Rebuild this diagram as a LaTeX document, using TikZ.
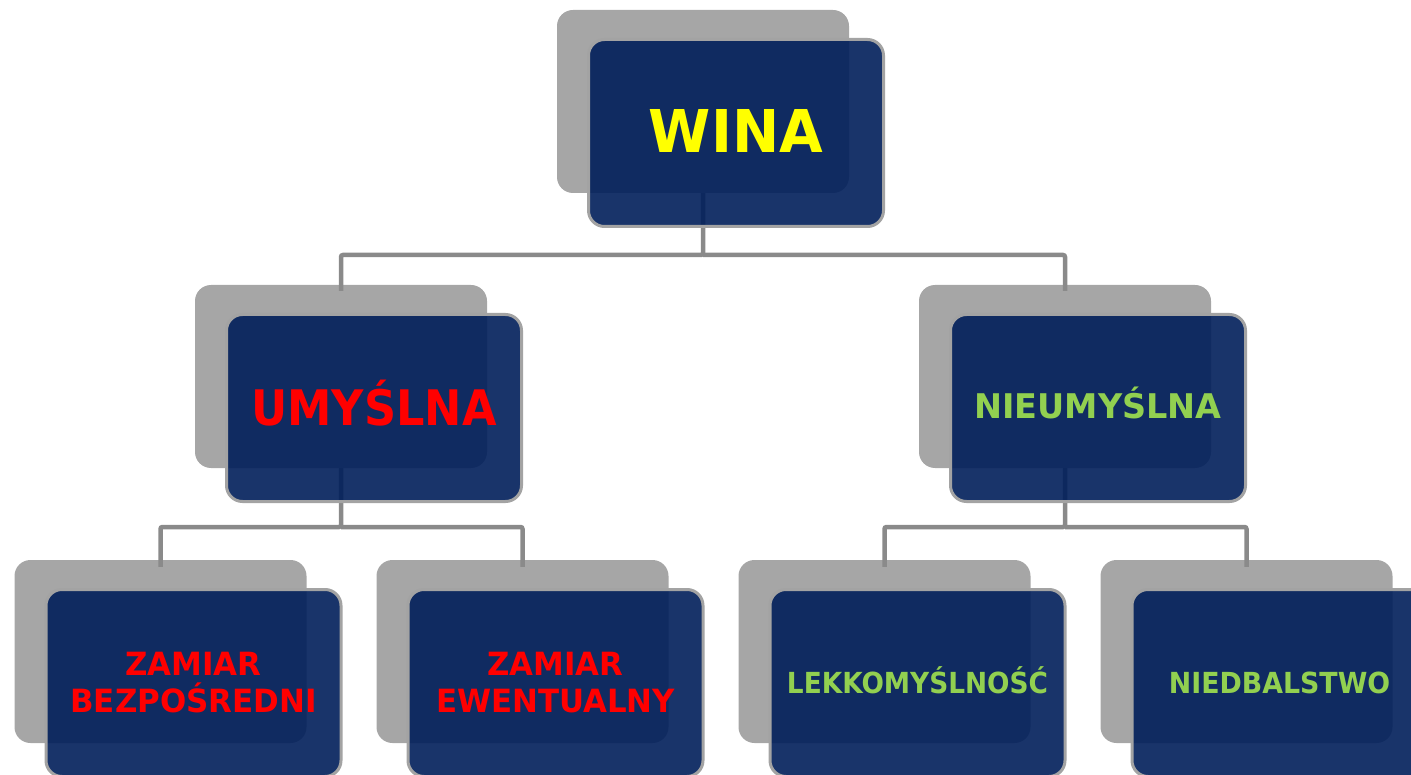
\documentclass[tikz,border=0pt]{standalone}
\usepackage{fontspec}
\setmainfont{DejaVu Sans}
\definecolor{backgray}{HTML}{A6A6A6}
\definecolor{bordergray}{HTML}{A3A3A3}
\definecolor{linegray}{HTML}{8A8A8A}
\definecolor{boxblue}{RGB}{0,30,90}
\definecolor{txtyellow}{HTML}{FFFF00}
\definecolor{txtred}{HTML}{FF0000}
\definecolor{txtgreen}{HTML}{92D050}
\tikzset{
  gbox/.style={draw=none, fill=backgray, rounded corners=16pt, minimum width=292pt, minimum height=183pt, inner sep=0pt},
  bbox/.style={draw=bordergray, line width=3pt, fill=boxblue, fill opacity=0.9, rounded corners=16pt, minimum width=295pt, minimum height=187pt, inner sep=0pt},
  conn/.style={draw=linegray, line width=4.5pt, rounded corners=2pt},
  lbl/.style={inner sep=0pt, align=center, font=\bfseries},
  sx/.style={xscale=#1, transform shape},
  big/.style={lbl, font=\bfseries\fontsize{59}{70}\selectfont, text=txtyellow},
  mid/.style={lbl, font=\bfseries\fontsize{49}{58}\selectfont},
  midg/.style={lbl, font=\bfseries\fontsize{34}{40}\selectfont, text=txtgreen},
  low/.style={lbl, font=\bfseries\fontsize{32}{37}\selectfont, text=txtred},
  lowg/.style={lbl, font=\bfseries\fontsize{29}{35}\selectfont, text=txtgreen},
}
\begin{document}
\begin{tikzpicture}[x=1pt,y=-1pt]
\useasboundingbox (0,0) rectangle (1411,775);
% back gray boxes
\node[gbox] (g0) at (703,101.5) {};
\node[gbox] (g1) at (341,376.5) {};
\node[gbox] (g2) at (1065,376.5) {};
\node[gbox] (g3) at (160.5,651.5) {};
\node[gbox] (g4) at (522.5,651.5) {};
\node[gbox] (g5) at (884.5,651.5) {};
\node[gbox] (g6) at (1246.5,651.5) {};
% junctions
\coordinate (j0) at (703,255);
\coordinate (j1) at (341,527);
\coordinate (j2) at (1065,527);
% connectors
\draw[conn] (g0.south) -- (j0) -| ([yshift=-6pt]g1.north);
\draw[conn] (j0) -| ([yshift=-6pt]g2.north);
\draw[conn] (g1.south) -- (j1) -| ([yshift=-7pt]g3.north);
\draw[conn] (j1) -| ([yshift=-7pt]g4.north);
\draw[conn] (g2.south) -- (j2) -| ([yshift=-7pt]g5.north);
\draw[conn] (j2) -| ([yshift=-7pt]g6.north);
% front blue boxes
\node[bbox] (b0) at (736,133) {};
\node[bbox] (b1) at (374,408) {};
\node[bbox] (b2) at (1098,408) {};
\node[bbox] (b3) at (193.5,683) {};
\node[bbox] (b4) at (555.5,683) {};
\node[bbox] (b5) at (917.5,683) {};
\node[bbox] (b6) at (1279.5,683) {};
% labels
\node[big, anchor=base, sx=0.956] (t0) at ([yshift=-20pt]b0.center) {WINA};
\node[mid, anchor=base, text=txtred, sx=0.91] (t1) at ([yshift=-17pt]b1.center) {UMYŚLNA};
\node[midg, anchor=base, sx=0.984] (t2) at ([yshift=-10pt]b2.center) {NIEUMYŚLNA};
\node[low, sx=0.966] (t3) at (b3.center) {ZAMIAR\\BEZPOŚREDNI};
\node[low, sx=0.964] (t4) at (b4.center) {ZAMIAR\\EWENTUALNY};
\node[lowg, anchor=base, sx=0.91] (t5) at ([yshift=-10pt]b5.center) {LEKKOMYŚLNOŚĆ};
\node[lowg, anchor=base, sx=0.925] (t6) at ([yshift=-10pt]b6.center) {NIEDBALSTWO};
\end{tikzpicture}
\end{document}
